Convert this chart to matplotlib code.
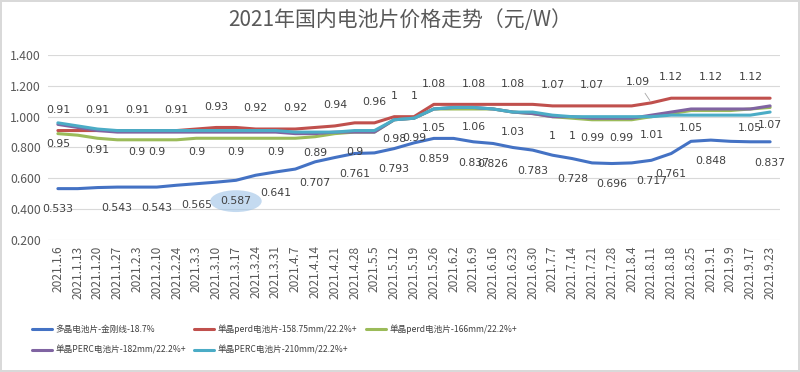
import matplotlib
matplotlib.use('Agg')
import matplotlib.pyplot as plt
import numpy as np

plt.rcParams['font.family'] = ['Noto Sans CJK SC', 'DejaVu Sans']

# ── Data ──────────────────────────────────────────────────────────────
dates = ['2021.1.6', '2021.1.13', '2021.1.20', '2021.1.27', '2021.2.3',
         '2021.2.10', '2021.2.24', '2021.3.3', '2021.3.10', '2021.3.17',
         '2021.3.24', '2021.3.31', '2021.4.7', '2021.4.14', '2021.4.21',
         '2021.4.28', '2021.5.5', '2021.5.12', '2021.5.19', '2021.5.26',
         '2021.6.2', '2021.6.9', '2021.6.16', '2021.6.23', '2021.6.30',
         '2021.7.7', '2021.7.14', '2021.7.21', '2021.7.28', '2021.8.4',
         '2021.8.11', '2021.8.18', '2021.8.25', '2021.9.1', '2021.9.9',
         '2021.9.17', '2021.9.23']

poly = [0.533, 0.533, 0.540, 0.543, 0.543, 0.543, 0.555, 0.565, 0.575, 0.587,
        0.620, 0.641, 0.660, 0.707, 0.735, 0.761, 0.765, 0.793, 0.830, 0.859,
        0.859, 0.837, 0.826, 0.800, 0.783, 0.750, 0.728, 0.700, 0.696, 0.700,
        0.717, 0.761, 0.840, 0.848, 0.840, 0.837, 0.837]
perd_158 = [0.91, 0.91, 0.91, 0.91, 0.91, 0.91, 0.91, 0.92, 0.93, 0.93,
            0.92, 0.92, 0.92, 0.93, 0.94, 0.96, 0.96, 1.00, 1.00, 1.08,
            1.08, 1.08, 1.08, 1.08, 1.08, 1.07, 1.07, 1.07, 1.07, 1.07,
            1.09, 1.12, 1.12, 1.12, 1.12, 1.12, 1.12]
perd_166 = [0.89, 0.88, 0.86, 0.85, 0.85, 0.85, 0.85, 0.86, 0.86, 0.86,
            0.86, 0.86, 0.86, 0.87, 0.89, 0.90, 0.90, 0.98, 0.99, 1.05,
            1.05, 1.05, 1.05, 1.03, 1.02, 1.00, 0.99, 0.98, 0.98, 0.98,
            1.00, 1.02, 1.04, 1.04, 1.04, 1.05, 1.06]
perc_182 = [0.95, 0.93, 0.91, 0.90, 0.90, 0.90, 0.90, 0.90, 0.90, 0.90,
            0.90, 0.90, 0.89, 0.89, 0.90, 0.90, 0.90, 0.98, 0.99, 1.05,
            1.06, 1.06, 1.05, 1.03, 1.02, 1.00, 1.00, 0.99, 0.99, 0.99,
            1.01, 1.03, 1.05, 1.05, 1.05, 1.05, 1.07]
perc_210 = [0.96, 0.94, 0.92, 0.91, 0.91, 0.91, 0.91, 0.91, 0.91, 0.91,
            0.91, 0.91, 0.90, 0.90, 0.90, 0.91, 0.91, 0.98, 0.99, 1.05,
            1.06, 1.06, 1.05, 1.03, 1.03, 1.01, 1.00, 1.00, 1.00, 1.00,
            1.00, 1.01, 1.01, 1.01, 1.01, 1.01, 1.03]

# indices that carry a data label
poly_lbl = [0, 3, 5, 7, 9, 11, 13, 15, 17, 19, 21, 22, 24, 26, 28, 30, 31, 33, 36]
perd_158_lbl = [0, 2, 4, 6, 8, 10, 12, 14, 16, 17, 18, 19, 21, 23, 25, 27,
                30, 31, 33, 35]
perc_182_lbl = [0, 2, 4, 5, 7, 9, 11, 13, 15, 17, 18, 19, 21, 23, 25, 26,
                27, 28, 30, 32, 35, 36]

names = ['多晶电池片-金刚线-18.7%',
         '单晶perd电池片-158.75mm/22.2%+',
         '单晶perd电池片-166mm/22.2%+',
         '单晶PERC电池片-182mm/22.2%+',
         '单晶PERC电池片-210mm/22.2%+']
colors = ['#4472c4', '#c0504d', '#9bbb59', '#8064a2', '#4bacc6']

yticks = [0.2, 0.4, 0.6, 0.8, 1.0, 1.2, 1.4]

# ── Figure ────────────────────────────────────────────────────────────
fig = plt.figure(figsize=(8.0, 3.72), dpi=100)
fig.patch.set_edgecolor('#d9d9d9')
fig.patch.set_linewidth(1.5)
ax = fig.add_axes([0.06, 0.355, 0.915, 0.497])

x = np.arange(len(dates))
series = [poly, perd_158, perd_166, perc_182, perc_210]
lines = []
for vals, name, c in zip(series, names, colors):
    ln, = ax.plot(x, vals, '-', color=c, linewidth=2.2, label=name,
                  solid_capstyle='round')
    lines.append(ln)

txt_kw = dict(fontsize=7.8, color='#404040', ha='center', va='center',
              family=['DejaVu Sans'], textcoords='offset points')
leader = dict(arrowstyle='-', color='#a6a6a6', lw=0.6, shrinkA=3, shrinkB=2)

for i in poly_lbl:
    kw = {}
    if i == 9:   # highlighted label in the source screenshot
        kw['bbox'] = dict(boxstyle='ellipse,pad=0.25', fc=(0.62, 0.76, 0.9, 0.6),
                          ec='none')
    ax.annotate(f'{poly[i]:g}', (x[i], poly[i]), xytext=(0, -15), **txt_kw, **kw)

for i in perd_158_lbl:
    if i == 30:
        ax.annotate(f'{perd_158[i]:g}', (x[i], perd_158[i]), xytext=(-10, 15),
                    arrowprops=leader, **txt_kw)
    else:
        ax.annotate(f'{perd_158[i]:g}', (x[i], perd_158[i]), xytext=(0, 15),
                    **txt_kw)

for i in perc_182_lbl:
    dx = 7 if i == 28 else 0
    ax.annotate(f'{perc_182[i]:g}', (x[i], perc_182[i]), xytext=(dx, -14),
                **txt_kw)

ax.set_xlim(-0.5, len(dates) - 0.5)
ax.set_ylim(0.2, 1.4)
ax.set_yticks(yticks)
ax.set_yticklabels([f'{v:.3f}' for v in yticks])
ax.set_xticks(x)
ax.set_xticklabels(dates, rotation=90)
ax.tick_params(axis='y', length=0, labelsize=8.8, labelcolor='#595959', pad=5)
ax.tick_params(axis='x', length=0, labelsize=8.6, labelcolor='#595959', pad=4)
ax.grid(axis='y', color='#d9d9d9', linewidth=0.8)
ax.set_axisbelow(True)
for s in ax.spines.values():
    s.set_visible(False)

fig.text(0.5, 0.945, '2021年国内电池片价格走势（元/W）', ha='center',
         va='center', fontsize=15, color='#595959')

order = [0, 3, 1, 4, 2]
fig.legend([lines[k] for k in order], [names[k] for k in order],
           loc='upper left', bbox_to_anchor=(0.04, 0.128), ncol=3,
           frameon=False, fontsize=6.2, handlelength=2.3, columnspacing=1.0,
           labelcolor='#404040', handletextpad=0.4, labelspacing=1.35,
           borderpad=0, borderaxespad=0)

fig.savefig('out.png', dpi=100)
